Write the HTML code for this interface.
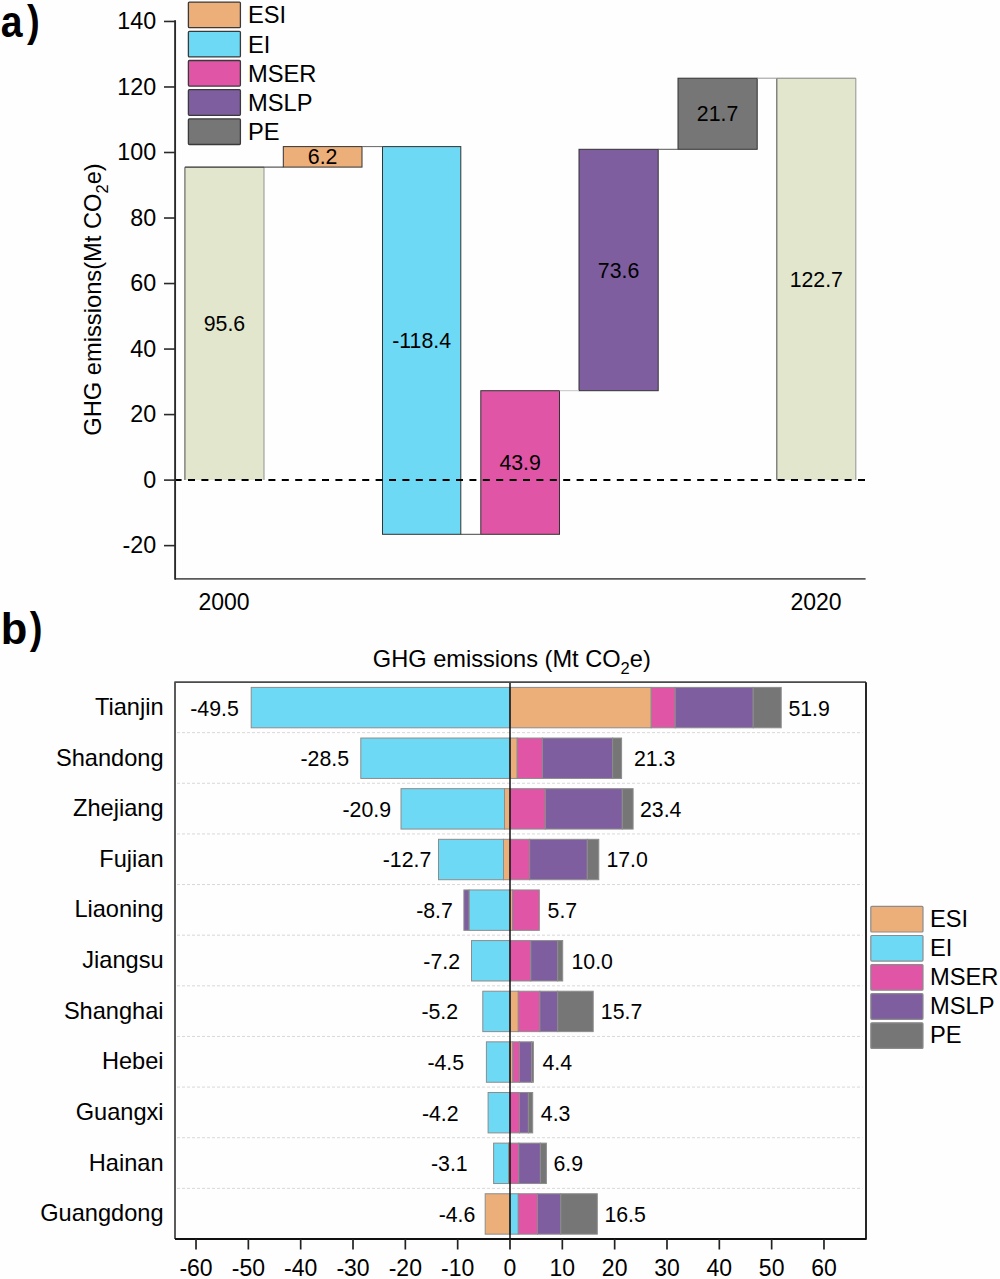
<!DOCTYPE html>
<html><head><meta charset="utf-8"><style>
html,body{margin:0;padding:0;background:#fefefe;}
svg{display:block;}
text{font-family:"Liberation Sans", sans-serif;fill:#000;}
</style></head><body>
<svg width="1000" height="1279" viewBox="0 0 1000 1279">
<rect width="1000" height="1279" fill="#fefefe"/>
<text transform="translate(0.8,36.8) scale(0.865,1)" font-size="45.3" font-weight="bold">a</text>
<text transform="translate(27.0,36.4) scale(0.86,1)" font-size="44.4" font-weight="bold">)</text>
<rect x="184.90" y="167.20" width="79.10" height="312.80" fill="#e2e6cc"/>
<line x1="184.90" y1="167.20" x2="184.90" y2="480.00" stroke="#5c5c5c" stroke-width="1.1"/>
<line x1="264.00" y1="167.20" x2="264.00" y2="480.00" stroke="#9a9a9a" stroke-width="1.1"/>
<line x1="184.90" y1="167.20" x2="264.00" y2="167.20" stroke="#808080" stroke-width="1"/>
<rect x="283.30" y="146.60" width="78.70" height="20.50" fill="#ecaf7a" stroke="#333" stroke-width="1"/>
<rect x="382.50" y="146.60" width="78.30" height="387.70" fill="#6ed9f5" stroke="#333" stroke-width="1"/>
<rect x="480.80" y="390.70" width="78.70" height="143.60" fill="#e055a6" stroke="#333" stroke-width="1"/>
<rect x="579.00" y="149.30" width="79.20" height="241.40" fill="#7e5e9f" stroke="#333" stroke-width="1"/>
<rect x="678.00" y="78.20" width="79.20" height="71.10" fill="#767676" stroke="#333" stroke-width="1"/>
<rect x="776.80" y="78.20" width="79.00" height="401.80" fill="#e2e6cc"/>
<line x1="776.80" y1="78.20" x2="776.80" y2="480.00" stroke="#5c5c5c" stroke-width="1.1"/>
<line x1="855.80" y1="78.20" x2="855.80" y2="480.00" stroke="#9a9a9a" stroke-width="1.1"/>
<line x1="776.80" y1="78.20" x2="855.80" y2="78.20" stroke="#808080" stroke-width="1"/>
<line x1="184.90" y1="167.10" x2="283.30" y2="167.10" stroke="#333" stroke-width="1"/>
<line x1="362.00" y1="146.60" x2="382.50" y2="146.60" stroke="#666" stroke-width="1"/>
<line x1="460.80" y1="534.30" x2="480.80" y2="534.30" stroke="#444" stroke-width="1"/>
<line x1="559.50" y1="390.70" x2="579.00" y2="390.70" stroke="#c4c4c4" stroke-width="1"/>
<line x1="658.20" y1="149.30" x2="678.00" y2="149.30" stroke="#555" stroke-width="1"/>
<line x1="757.20" y1="78.20" x2="776.80" y2="78.20" stroke="#999" stroke-width="1"/>
<text x="224.45" y="331.20" font-size="21.3" text-anchor="middle">95.6</text>
<text x="322.65" y="164.45" font-size="21.3" text-anchor="middle">6.2</text>
<text x="421.65" y="348.05" font-size="21.3" text-anchor="middle">-118.4</text>
<text x="520.15" y="470.10" font-size="21.3" text-anchor="middle">43.9</text>
<text x="618.60" y="277.60" font-size="21.3" text-anchor="middle">73.6</text>
<text x="717.60" y="121.35" font-size="21.3" text-anchor="middle">21.7</text>
<text x="816.30" y="286.70" font-size="21.3" text-anchor="middle">122.7</text>
<line x1="174.6" y1="480" x2="865" y2="480" stroke="#000" stroke-width="2" stroke-dasharray="7 6.4"/>
<path d="M865.6 578.9 H175" fill="none" stroke="#5a5a5a" stroke-width="1.7"/>
<path d="M175.1 20.9 V578.9" fill="none" stroke="#2a2a2a" stroke-width="1.9" stroke-linecap="round"/>
<line x1="164" y1="545.62" x2="175" y2="545.62" stroke="#2a2a2a" stroke-width="1.6"/>
<text x="156.2" y="553.22" font-size="23.3" text-anchor="end">-20</text>
<line x1="164" y1="480.10" x2="175" y2="480.10" stroke="#2a2a2a" stroke-width="1.6"/>
<text x="156.2" y="487.70" font-size="23.3" text-anchor="end">0</text>
<line x1="164" y1="414.58" x2="175" y2="414.58" stroke="#2a2a2a" stroke-width="1.6"/>
<text x="156.2" y="422.18" font-size="23.3" text-anchor="end">20</text>
<line x1="164" y1="349.06" x2="175" y2="349.06" stroke="#2a2a2a" stroke-width="1.6"/>
<text x="156.2" y="356.66" font-size="23.3" text-anchor="end">40</text>
<line x1="164" y1="283.54" x2="175" y2="283.54" stroke="#2a2a2a" stroke-width="1.6"/>
<text x="156.2" y="291.14" font-size="23.3" text-anchor="end">60</text>
<line x1="164" y1="218.02" x2="175" y2="218.02" stroke="#2a2a2a" stroke-width="1.6"/>
<text x="156.2" y="225.62" font-size="23.3" text-anchor="end">80</text>
<line x1="164" y1="152.50" x2="175" y2="152.50" stroke="#2a2a2a" stroke-width="1.6"/>
<text x="156.2" y="160.10" font-size="23.3" text-anchor="end">100</text>
<line x1="164" y1="86.98" x2="175" y2="86.98" stroke="#2a2a2a" stroke-width="1.6"/>
<text x="156.2" y="94.58" font-size="23.3" text-anchor="end">120</text>
<line x1="164" y1="21.46" x2="175" y2="21.46" stroke="#2a2a2a" stroke-width="1.6"/>
<text x="156.2" y="29.06" font-size="23.3" text-anchor="end">140</text>
<text x="224" y="609.5" font-size="23" text-anchor="middle">2000</text>
<text x="816" y="609.5" font-size="23" text-anchor="middle">2020</text>
<text transform="translate(101.3,299.5) rotate(-90)" font-size="23.7" text-anchor="middle">GHG emissions(Mt CO<tspan font-size="16.5" dy="7.0">2</tspan><tspan dy="-7.0">e)</tspan></text>
<rect x="188.4" y="2.10" width="52" height="25.6" rx="1" fill="#ecaf7a" stroke="#3a3a3a" stroke-width="1.3"/>
<text x="248" y="23.30" font-size="23.7">ESI</text>
<rect x="188.4" y="31.30" width="52" height="25.6" rx="1" fill="#6ed9f5" stroke="#3a3a3a" stroke-width="1.3"/>
<text x="248" y="52.50" font-size="23.7">EI</text>
<rect x="188.4" y="60.50" width="52" height="25.6" rx="1" fill="#e055a6" stroke="#3a3a3a" stroke-width="1.3"/>
<text x="248" y="81.70" font-size="23.7">MSER</text>
<rect x="188.4" y="89.70" width="52" height="25.6" rx="1" fill="#7e5e9f" stroke="#3a3a3a" stroke-width="1.3"/>
<text x="248" y="110.90" font-size="23.7">MSLP</text>
<rect x="188.4" y="118.90" width="52" height="25.6" rx="1" fill="#767676" stroke="#3a3a3a" stroke-width="1.3"/>
<text x="248" y="140.10" font-size="23.7">PE</text>
<text transform="translate(0.8,643.9) scale(1.0,1)" font-size="43.5" font-weight="bold">b</text>
<text transform="translate(29.8,643.3) scale(0.86,1)" font-size="44.4" font-weight="bold">)</text>
<text x="511.8" y="667" font-size="23.6" text-anchor="middle">GHG emissions (Mt CO<tspan font-size="16.5" dy="6.5">2</tspan><tspan dy="-6.5">e)</tspan></text>
<line x1="177" y1="732.64" x2="862.5" y2="732.64" stroke="#d8d8d8" stroke-width="1" stroke-dasharray="3 2"/>
<line x1="177" y1="783.27" x2="862.5" y2="783.27" stroke="#d8d8d8" stroke-width="1" stroke-dasharray="3 2"/>
<line x1="177" y1="833.91" x2="862.5" y2="833.91" stroke="#d8d8d8" stroke-width="1" stroke-dasharray="3 2"/>
<line x1="177" y1="884.55" x2="862.5" y2="884.55" stroke="#d8d8d8" stroke-width="1" stroke-dasharray="3 2"/>
<line x1="177" y1="935.18" x2="862.5" y2="935.18" stroke="#d8d8d8" stroke-width="1" stroke-dasharray="3 2"/>
<line x1="177" y1="985.82" x2="862.5" y2="985.82" stroke="#d8d8d8" stroke-width="1" stroke-dasharray="3 2"/>
<line x1="177" y1="1036.45" x2="862.5" y2="1036.45" stroke="#d8d8d8" stroke-width="1" stroke-dasharray="3 2"/>
<line x1="177" y1="1087.09" x2="862.5" y2="1087.09" stroke="#d8d8d8" stroke-width="1" stroke-dasharray="3 2"/>
<line x1="177" y1="1137.73" x2="862.5" y2="1137.73" stroke="#d8d8d8" stroke-width="1" stroke-dasharray="3 2"/>
<line x1="177" y1="1188.36" x2="862.5" y2="1188.36" stroke="#d8d8d8" stroke-width="1" stroke-dasharray="3 2"/>
<rect x="251.20" y="687.40" width="258.80" height="40.4" fill="#6ed9f5" stroke="#8c8c8c" stroke-width="1"/>
<rect x="510.00" y="687.40" width="141.20" height="40.4" fill="#ecaf7a" stroke="#8c8c8c" stroke-width="1"/>
<rect x="651.20" y="687.40" width="24.00" height="40.4" fill="#e055a6" stroke="#8c8c8c" stroke-width="1"/>
<rect x="675.20" y="687.40" width="78.00" height="40.4" fill="#7e5e9f" stroke="#8c8c8c" stroke-width="1"/>
<rect x="753.20" y="687.40" width="28.00" height="40.4" fill="#767676" stroke="#8c8c8c" stroke-width="1"/>
<text x="163.6" y="714.92" font-size="23.6" text-anchor="end">Tianjin</text>
<text x="238.80" y="715.52" font-size="21.3" text-anchor="end">-49.5</text>
<text x="788.40" y="715.52" font-size="21.3">51.9</text>
<rect x="360.80" y="738.04" width="149.20" height="40.4" fill="#6ed9f5" stroke="#8c8c8c" stroke-width="1"/>
<rect x="510.00" y="738.04" width="7.20" height="40.4" fill="#ecaf7a" stroke="#8c8c8c" stroke-width="1"/>
<rect x="517.20" y="738.04" width="25.20" height="40.4" fill="#e055a6" stroke="#8c8c8c" stroke-width="1"/>
<rect x="542.40" y="738.04" width="70.20" height="40.4" fill="#7e5e9f" stroke="#8c8c8c" stroke-width="1"/>
<rect x="612.60" y="738.04" width="9.00" height="40.4" fill="#767676" stroke="#8c8c8c" stroke-width="1"/>
<text x="163.6" y="765.55" font-size="23.6" text-anchor="end">Shandong</text>
<text x="349.00" y="766.15" font-size="21.3" text-anchor="end">-28.5</text>
<text x="634.00" y="766.15" font-size="21.3">21.3</text>
<rect x="401.00" y="788.67" width="103.50" height="40.4" fill="#6ed9f5" stroke="#8c8c8c" stroke-width="1"/>
<rect x="504.50" y="788.67" width="5.50" height="40.4" fill="#ecaf7a" stroke="#8c8c8c" stroke-width="1"/>
<rect x="510.00" y="788.67" width="35.30" height="40.4" fill="#e055a6" stroke="#8c8c8c" stroke-width="1"/>
<rect x="545.30" y="788.67" width="77.00" height="40.4" fill="#7e5e9f" stroke="#8c8c8c" stroke-width="1"/>
<rect x="622.30" y="788.67" width="10.80" height="40.4" fill="#767676" stroke="#8c8c8c" stroke-width="1"/>
<text x="163.6" y="816.19" font-size="23.6" text-anchor="end">Zhejiang</text>
<text x="391.00" y="816.79" font-size="21.3" text-anchor="end">-20.9</text>
<text x="640.00" y="816.79" font-size="21.3">23.4</text>
<rect x="438.50" y="839.31" width="65.00" height="40.4" fill="#6ed9f5" stroke="#8c8c8c" stroke-width="1"/>
<rect x="503.50" y="839.31" width="6.50" height="40.4" fill="#ecaf7a" stroke="#8c8c8c" stroke-width="1"/>
<rect x="510.00" y="839.31" width="19.70" height="40.4" fill="#e055a6" stroke="#8c8c8c" stroke-width="1"/>
<rect x="529.70" y="839.31" width="57.60" height="40.4" fill="#7e5e9f" stroke="#8c8c8c" stroke-width="1"/>
<rect x="587.30" y="839.31" width="11.50" height="40.4" fill="#767676" stroke="#8c8c8c" stroke-width="1"/>
<text x="163.6" y="866.83" font-size="23.6" text-anchor="end">Fujian</text>
<text x="431.30" y="867.43" font-size="21.3" text-anchor="end">-12.7</text>
<text x="606.40" y="867.43" font-size="21.3">17.0</text>
<rect x="463.90" y="889.95" width="5.30" height="40.4" fill="#7e5e9f" stroke="#8c8c8c" stroke-width="1"/>
<rect x="469.20" y="889.95" width="40.80" height="40.4" fill="#6ed9f5" stroke="#8c8c8c" stroke-width="1"/>
<rect x="510.00" y="889.95" width="2.60" height="40.4" fill="#ecaf7a" stroke="#8c8c8c" stroke-width="1"/>
<rect x="512.60" y="889.95" width="26.70" height="40.4" fill="#e055a6" stroke="#8c8c8c" stroke-width="1"/>
<text x="163.6" y="917.46" font-size="23.6" text-anchor="end">Liaoning</text>
<text x="452.90" y="918.06" font-size="21.3" text-anchor="end">-8.7</text>
<text x="547.60" y="918.06" font-size="21.3">5.7</text>
<rect x="471.50" y="940.58" width="38.50" height="40.4" fill="#6ed9f5" stroke="#8c8c8c" stroke-width="1"/>
<rect x="510.00" y="940.58" width="20.80" height="40.4" fill="#e055a6" stroke="#8c8c8c" stroke-width="1"/>
<rect x="530.80" y="940.58" width="26.90" height="40.4" fill="#7e5e9f" stroke="#8c8c8c" stroke-width="1"/>
<rect x="557.70" y="940.58" width="5.00" height="40.4" fill="#767676" stroke="#8c8c8c" stroke-width="1"/>
<text x="163.6" y="968.10" font-size="23.6" text-anchor="end">Jiangsu</text>
<text x="460.00" y="968.70" font-size="21.3" text-anchor="end">-7.2</text>
<text x="571.50" y="968.70" font-size="21.3">10.0</text>
<rect x="482.80" y="991.22" width="27.20" height="40.4" fill="#6ed9f5" stroke="#8c8c8c" stroke-width="1"/>
<rect x="510.00" y="991.22" width="8.30" height="40.4" fill="#ecaf7a" stroke="#8c8c8c" stroke-width="1"/>
<rect x="518.30" y="991.22" width="21.60" height="40.4" fill="#e055a6" stroke="#8c8c8c" stroke-width="1"/>
<rect x="539.90" y="991.22" width="17.80" height="40.4" fill="#7e5e9f" stroke="#8c8c8c" stroke-width="1"/>
<rect x="557.70" y="991.22" width="35.50" height="40.4" fill="#767676" stroke="#8c8c8c" stroke-width="1"/>
<text x="163.6" y="1018.74" font-size="23.6" text-anchor="end">Shanghai</text>
<text x="458.10" y="1019.34" font-size="21.3" text-anchor="end">-5.2</text>
<text x="600.80" y="1019.34" font-size="21.3">15.7</text>
<rect x="486.40" y="1041.85" width="23.60" height="40.4" fill="#6ed9f5" stroke="#8c8c8c" stroke-width="1"/>
<rect x="510.00" y="1041.85" width="2.80" height="40.4" fill="#ecaf7a" stroke="#8c8c8c" stroke-width="1"/>
<rect x="512.80" y="1041.85" width="6.70" height="40.4" fill="#e055a6" stroke="#8c8c8c" stroke-width="1"/>
<rect x="519.50" y="1041.85" width="12.00" height="40.4" fill="#7e5e9f" stroke="#8c8c8c" stroke-width="1"/>
<rect x="531.50" y="1041.85" width="1.90" height="40.4" fill="#767676" stroke="#8c8c8c" stroke-width="1"/>
<text x="163.6" y="1069.37" font-size="23.6" text-anchor="end">Hebei</text>
<text x="464.10" y="1069.97" font-size="21.3" text-anchor="end">-4.5</text>
<text x="542.50" y="1069.97" font-size="21.3">4.4</text>
<rect x="488.10" y="1092.49" width="21.90" height="40.4" fill="#6ed9f5" stroke="#8c8c8c" stroke-width="1"/>
<rect x="510.00" y="1092.49" width="9.50" height="40.4" fill="#e055a6" stroke="#8c8c8c" stroke-width="1"/>
<rect x="519.50" y="1092.49" width="8.90" height="40.4" fill="#7e5e9f" stroke="#8c8c8c" stroke-width="1"/>
<rect x="528.40" y="1092.49" width="4.30" height="40.4" fill="#767676" stroke="#8c8c8c" stroke-width="1"/>
<text x="163.6" y="1120.01" font-size="23.6" text-anchor="end">Guangxi</text>
<text x="458.60" y="1120.61" font-size="21.3" text-anchor="end">-4.2</text>
<text x="540.80" y="1120.61" font-size="21.3">4.3</text>
<rect x="493.60" y="1143.13" width="14.90" height="40.4" fill="#6ed9f5" stroke="#8c8c8c" stroke-width="1"/>
<rect x="508.50" y="1143.13" width="1.50" height="40.4" fill="#ecaf7a" stroke="#8c8c8c" stroke-width="1"/>
<rect x="510.00" y="1143.13" width="8.80" height="40.4" fill="#e055a6" stroke="#8c8c8c" stroke-width="1"/>
<rect x="518.80" y="1143.13" width="21.60" height="40.4" fill="#7e5e9f" stroke="#8c8c8c" stroke-width="1"/>
<rect x="540.40" y="1143.13" width="6.00" height="40.4" fill="#767676" stroke="#8c8c8c" stroke-width="1"/>
<text x="163.6" y="1170.65" font-size="23.6" text-anchor="end">Hainan</text>
<text x="467.70" y="1171.25" font-size="21.3" text-anchor="end">-3.1</text>
<text x="553.50" y="1171.25" font-size="21.3">6.9</text>
<rect x="485.20" y="1193.76" width="24.80" height="40.4" fill="#ecaf7a" stroke="#8c8c8c" stroke-width="1"/>
<rect x="510.00" y="1193.76" width="8.30" height="40.4" fill="#6ed9f5" stroke="#8c8c8c" stroke-width="1"/>
<rect x="518.30" y="1193.76" width="19.20" height="40.4" fill="#e055a6" stroke="#8c8c8c" stroke-width="1"/>
<rect x="537.50" y="1193.76" width="23.30" height="40.4" fill="#7e5e9f" stroke="#8c8c8c" stroke-width="1"/>
<rect x="560.80" y="1193.76" width="36.50" height="40.4" fill="#767676" stroke="#8c8c8c" stroke-width="1"/>
<text x="163.6" y="1221.28" font-size="23.6" text-anchor="end">Guangdong</text>
<text x="475.40" y="1221.88" font-size="21.3" text-anchor="end">-4.6</text>
<text x="604.40" y="1221.88" font-size="21.3">16.5</text>
<line x1="510" y1="682.0" x2="510" y2="1239.0" stroke="#111" stroke-width="1.5"/>
<path d="M175.0 1239.0 V682.2 H866.0" fill="none" stroke="#4a4a4a" stroke-width="1.8" stroke-linejoin="round"/>
<path d="M175.0 1239.0 H866.0 V682.2" fill="none" stroke="#111" stroke-width="1.8" stroke-linejoin="round"/>
<line x1="196.02" y1="1239.0" x2="196.02" y2="1249.5" stroke="#222" stroke-width="1.7"/>
<text x="196.02" y="1275.6" font-size="23" text-anchor="middle">-60</text>
<line x1="248.35" y1="1239.0" x2="248.35" y2="1249.5" stroke="#222" stroke-width="1.7"/>
<text x="248.35" y="1275.6" font-size="23" text-anchor="middle">-50</text>
<line x1="300.68" y1="1239.0" x2="300.68" y2="1249.5" stroke="#222" stroke-width="1.7"/>
<text x="300.68" y="1275.6" font-size="23" text-anchor="middle">-40</text>
<line x1="353.01" y1="1239.0" x2="353.01" y2="1249.5" stroke="#222" stroke-width="1.7"/>
<text x="353.01" y="1275.6" font-size="23" text-anchor="middle">-30</text>
<line x1="405.34" y1="1239.0" x2="405.34" y2="1249.5" stroke="#222" stroke-width="1.7"/>
<text x="405.34" y="1275.6" font-size="23" text-anchor="middle">-20</text>
<line x1="457.67" y1="1239.0" x2="457.67" y2="1249.5" stroke="#222" stroke-width="1.7"/>
<text x="457.67" y="1275.6" font-size="23" text-anchor="middle">-10</text>
<line x1="510.00" y1="1239.0" x2="510.00" y2="1249.5" stroke="#222" stroke-width="1.7"/>
<text x="510.00" y="1275.6" font-size="23" text-anchor="middle">0</text>
<line x1="562.33" y1="1239.0" x2="562.33" y2="1249.5" stroke="#222" stroke-width="1.7"/>
<text x="562.33" y="1275.6" font-size="23" text-anchor="middle">10</text>
<line x1="614.66" y1="1239.0" x2="614.66" y2="1249.5" stroke="#222" stroke-width="1.7"/>
<text x="614.66" y="1275.6" font-size="23" text-anchor="middle">20</text>
<line x1="666.99" y1="1239.0" x2="666.99" y2="1249.5" stroke="#222" stroke-width="1.7"/>
<text x="666.99" y="1275.6" font-size="23" text-anchor="middle">30</text>
<line x1="719.32" y1="1239.0" x2="719.32" y2="1249.5" stroke="#222" stroke-width="1.7"/>
<text x="719.32" y="1275.6" font-size="23" text-anchor="middle">40</text>
<line x1="771.65" y1="1239.0" x2="771.65" y2="1249.5" stroke="#222" stroke-width="1.7"/>
<text x="771.65" y="1275.6" font-size="23" text-anchor="middle">50</text>
<line x1="823.98" y1="1239.0" x2="823.98" y2="1249.5" stroke="#222" stroke-width="1.7"/>
<text x="823.98" y="1275.6" font-size="23" text-anchor="middle">60</text>
<rect x="870.8" y="906.40" width="52.2" height="25.6" rx="1" fill="#ecaf7a" stroke="#8c8c8c" stroke-width="1.2"/>
<text x="930" y="927.00" font-size="23.7">ESI</text>
<rect x="870.8" y="935.50" width="52.2" height="25.6" rx="1" fill="#6ed9f5" stroke="#8c8c8c" stroke-width="1.2"/>
<text x="930" y="956.10" font-size="23.7">EI</text>
<rect x="870.8" y="964.60" width="52.2" height="25.6" rx="1" fill="#e055a6" stroke="#8c8c8c" stroke-width="1.2"/>
<text x="930" y="985.20" font-size="23.7">MSER</text>
<rect x="870.8" y="993.70" width="52.2" height="25.6" rx="1" fill="#7e5e9f" stroke="#8c8c8c" stroke-width="1.2"/>
<text x="930" y="1014.30" font-size="23.7">MSLP</text>
<rect x="870.8" y="1022.80" width="52.2" height="25.6" rx="1" fill="#767676" stroke="#8c8c8c" stroke-width="1.2"/>
<text x="930" y="1043.40" font-size="23.7">PE</text>
</svg>
</body></html>
